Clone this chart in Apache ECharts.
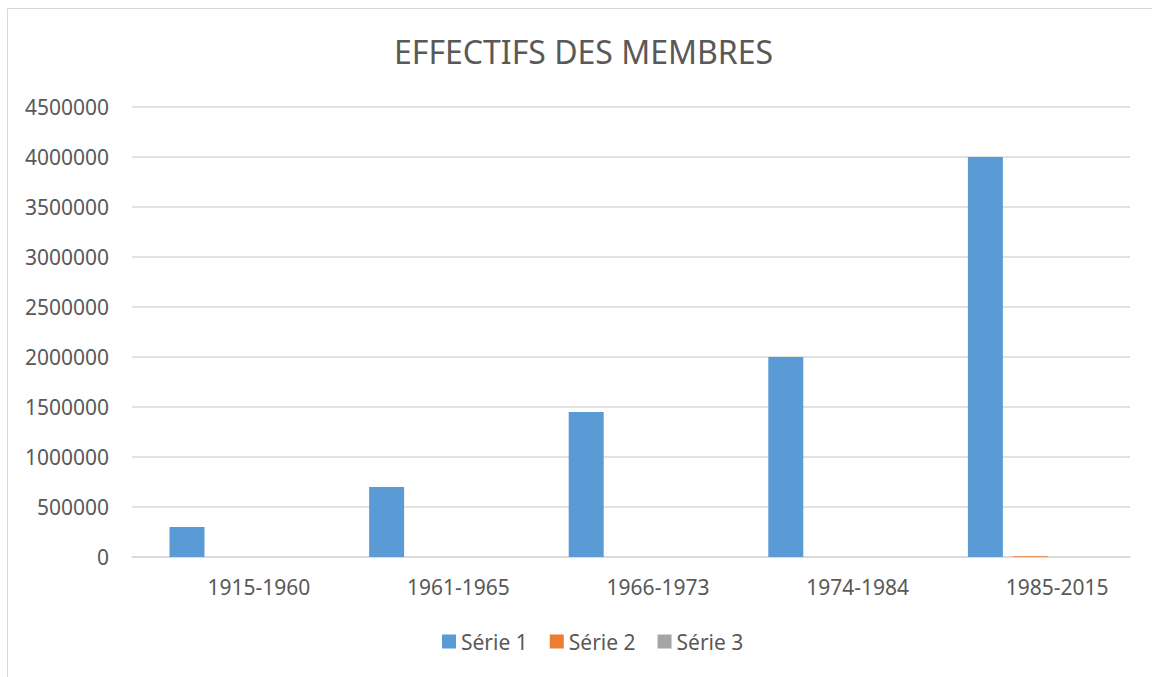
<!DOCTYPE html>
<html>
<head>
<meta charset="utf-8">
<script src="https://cdn.jsdelivr.net/npm/echarts@6/dist/echarts.min.js"></script>
<style>
  html, body { margin: 0; padding: 0; background: #fff; }
  #chart { width: 1152px; height: 677px; }
</style>
</head>
<body>
<div id="chart"></div>
<script>
var categories = ['1915-1960', '1961-1965', '1966-1973', '1974-1984', '1985-2015'];
var serie1 = [300000, 700000, 1450000, 2000000, 4000000];
var serie2 = [0, 0, 0, 0, 8000];
var serie3 = [0, 0, 0, 0, 0];
var seriesNames = ['Série 1', 'Série 2', 'Série 3'];

var textColor = '#595959';
var gridColor = '#d9d9d9';
var font = '"Noto Sans", "Open Sans", sans-serif';

var chart = echarts.init(document.getElementById('chart'), null, { renderer: 'svg' });

function bar(name, data, color) {
  return {
    name: name,
    type: 'bar',
    data: data,
    barWidth: 35,
    barGap: '28%',
    itemStyle: { color: color },
    emphasis: { disabled: true }
  };
}

chart.setOption({
  animation: false,
  textStyle: { fontFamily: font },
  graphic: [{
    type: 'rect',
    shape: { x: 7.5, y: 8.5, width: 1200, height: 700 },
    style: { fill: 'none', stroke: gridColor, lineWidth: 1 },
    silent: true
  }],
  title: {
    text: 'EFFECTIFS DES MEMBRES',
    left: 389,
    top: 30,
    textStyle: { color: textColor, fontSize: 32, fontWeight: 'normal', fontFamily: font }
  },
  legend: {
    data: seriesNames,
    bottom: 20,
    left: 437,
    icon: 'rect',
    itemWidth: 14,
    itemHeight: 14,
    itemGap: 22,
    textStyle: { color: textColor, fontSize: 21, fontFamily: font }
  },
  grid: {
    left: 132,
    right: 22,
    top: 107,
    bottom: 120
  },
  xAxis: {
    type: 'category',
    data: categories,
    axisLine: { lineStyle: { color: gridColor, width: 1.5 } },
    axisTick: { show: false },
    axisLabel: {
      color: textColor,
      fontSize: 21,
      margin: 19,
      padding: [0, 0, 0, 54]
    }
  },
  yAxis: {
    type: 'value',
    min: 0,
    max: 4500000,
    interval: 500000,
    axisLine: { show: false },
    axisTick: { show: false },
    splitLine: { lineStyle: { color: gridColor, width: 1.5 } },
    axisLabel: {
      color: textColor,
      fontSize: 21,
      margin: 23,
      formatter: function(v) { return String(v); }
    }
  },
  series: [
    bar(seriesNames[0], serie1, '#5b9bd5'),
    bar(seriesNames[1], serie2, '#ed7d31'),
    bar(seriesNames[2], serie3, '#a5a5a5')
  ]
});
window.addEventListener('resize', function() { chart.resize(); });
</script>
</body>
</html>
